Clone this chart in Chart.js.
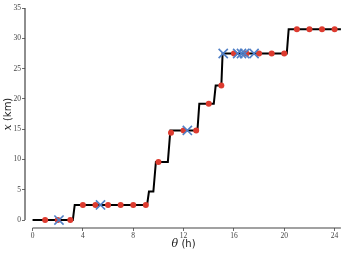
<!DOCTYPE html>
<html>
<head>
<meta charset="utf-8">
<script src="https://cdn.jsdelivr.net/npm/chart.js@4.4.1/dist/chart.umd.min.js"></script>
<style>
  html, body { margin: 0; padding: 0; background: #fff; }
  #wrap { width: 349px; height: 254px; }
</style>
</head>
<body>
<div id="wrap"><canvas id="chart"></canvas></div>
<script>
// step path of the trajectory (theta in hours, x in km)
const pathHours = [0, 3.2, 3.35, 9.1, 9.25, 9.6, 9.8, 10.75, 10.95, 13.1, 13.25, 14.4, 14.55, 15.0, 15.1, 20.2, 20.35, 24.5];
const pathKm    = [0, 0, 2.5, 2.5, 4.7, 4.7, 9.6, 9.6, 14.8, 14.8, 19.2, 19.2, 22.2, 22.2, 27.5, 27.5, 31.5, 31.5];

// hourly observations (red dots)
const obsHours = [1, 2, 3, 4, 5, 6, 7, 8, 9, 10, 11, 12, 13, 14, 15, 16, 17, 18, 19, 20, 21, 22, 23, 24];
const obsKm    = [0, 0, 0, 2.5, 2.5, 2.5, 2.5, 2.5, 2.5, 9.6, 14.4, 14.8, 14.8, 19.2, 22.2, 27.5, 27.5, 27.5, 27.5, 27.5, 31.5, 31.5, 31.5, 31.5];

// events (blue crosses)
const eventHours = [2.1, 5.4, 12.3, 15.15, 16.3, 16.6, 16.85, 17.6];
const eventKm    = [0, 2.5, 14.8, 27.5, 27.5, 27.5, 27.5, 27.5];

const xTicks = [0, 4, 8, 12, 16, 20, 24];
const yTicks = [0, 5, 10, 15, 20, 25, 30, 35];

const toPts = (xs, ys) => xs.map((x, i) => ({ x: x, y: ys[i] }));

const spineColor = "#444";
const tickFont = { family: "Liberation Serif", size: 7.5 };

// detached spines (seaborn-style offset axes) and the axis titles
const decor = {
    id: "decor",
    afterDraw(chart) {
        const ctx = chart.ctx;
        const xs = chart.scales.x, ys = chart.scales.y;
        const area = chart.chartArea;
        ctx.save();
        ctx.strokeStyle = spineColor;
        ctx.lineWidth = 1.2;
        ctx.beginPath();
        ctx.moveTo(area.left, ys.getPixelForValue(35));
        ctx.lineTo(area.left, ys.getPixelForValue(0));
        ctx.moveTo(xs.getPixelForValue(0), area.bottom);
        ctx.lineTo(xs.getPixelForValue(24.5), area.bottom);
        ctx.stroke();

        // titles: italic serif symbol + sans unit
        const italic = "italic 11px 'DejaVu Serif'";
        const sans = "10px 'DejaVu Sans'";
        ctx.fillStyle = "#222";
        ctx.textBaseline = "middle";

        // x title
        ctx.font = italic;
        const wTheta = ctx.measureText("θ").width;
        ctx.font = sans;
        const wH = ctx.measureText(" (h)").width;
        let cx = xs.getPixelForValue(12) - (wTheta + wH) / 2;
        const ty = 244;
        ctx.textAlign = "left";
        ctx.font = italic;
        ctx.fillText("θ", cx, ty);
        ctx.font = sans;
        ctx.fillText(" (h)", cx + wTheta, ty);

        // y title (rotated)
        ctx.font = italic;
        const wX = ctx.measureText("x").width;
        ctx.font = sans;
        const wKm = ctx.measureText(" (km)").width;
        ctx.translate(8, ys.getPixelForValue(17.5));
        ctx.rotate(-Math.PI / 2);
        const sx = -(wX + wKm) / 2;
        ctx.font = italic;
        ctx.fillText("x", sx, 0);
        ctx.font = sans;
        ctx.fillText(" (km)", sx + wX, 0);
        ctx.restore();
    }
};

new Chart(document.getElementById("chart"), {
    type: "scatter",
    data: {
        datasets: [
            {
                label: "events",
                data: toPts(eventHours, eventKm),
                pointStyle: "cross",
                rotation: 45,
                pointRadius: 6.5,
                pointBorderWidth: 1.6,
                borderColor: "#4f7fc6",
                backgroundColor: "#4f7fc6",
                order: 1
            },
            {
                label: "observations",
                data: toPts(obsHours, obsKm),
                pointStyle: "circle",
                pointRadius: 3,
                pointBorderWidth: 0,
                backgroundColor: "#dd3b2f",
                borderColor: "#dd3b2f",
                order: 2
            },
            {
                label: "path",
                data: toPts(pathHours, pathKm),
                showLine: true,
                pointRadius: 0,
                borderColor: "#000",
                borderWidth: 2,
                tension: 0,
                order: 3
            }
        ]
    },
    options: {
        responsive: true,
        maintainAspectRatio: false,
        animation: false,
        layout: { padding: { top: 7, right: 4, left: 0, bottom: 0 } },
        plugins: { legend: { display: false }, tooltip: { enabled: false } },
        scales: {
            x: {
                type: "linear",
                min: -0.6,
                max: 24.5,
                afterBuildTicks: s => { s.ticks = xTicks.map(v => ({ value: v })); },
                afterFit: s => { s.height = 26; },
                border: { display: false },
                grid: { drawOnChartArea: false, drawTicks: true, tickLength: 3, color: spineColor, lineWidth: 0.8 },
                ticks: { font: tickFont, color: "#444", padding: 1, maxRotation: 0 }
            },
            y: {
                type: "linear",
                min: -1.31,
                max: 35,
                afterBuildTicks: s => { s.ticks = yTicks.map(v => ({ value: v })); },
                afterFit: s => { s.width = 25; },
                border: { display: false },
                grid: { drawOnChartArea: false, drawTicks: true, tickLength: 3, color: spineColor, lineWidth: 0.8 },
                ticks: { font: tickFont, color: "#444", padding: 1 }
            }
        }
    },
    plugins: [decor]
});
</script>
</body>
</html>
